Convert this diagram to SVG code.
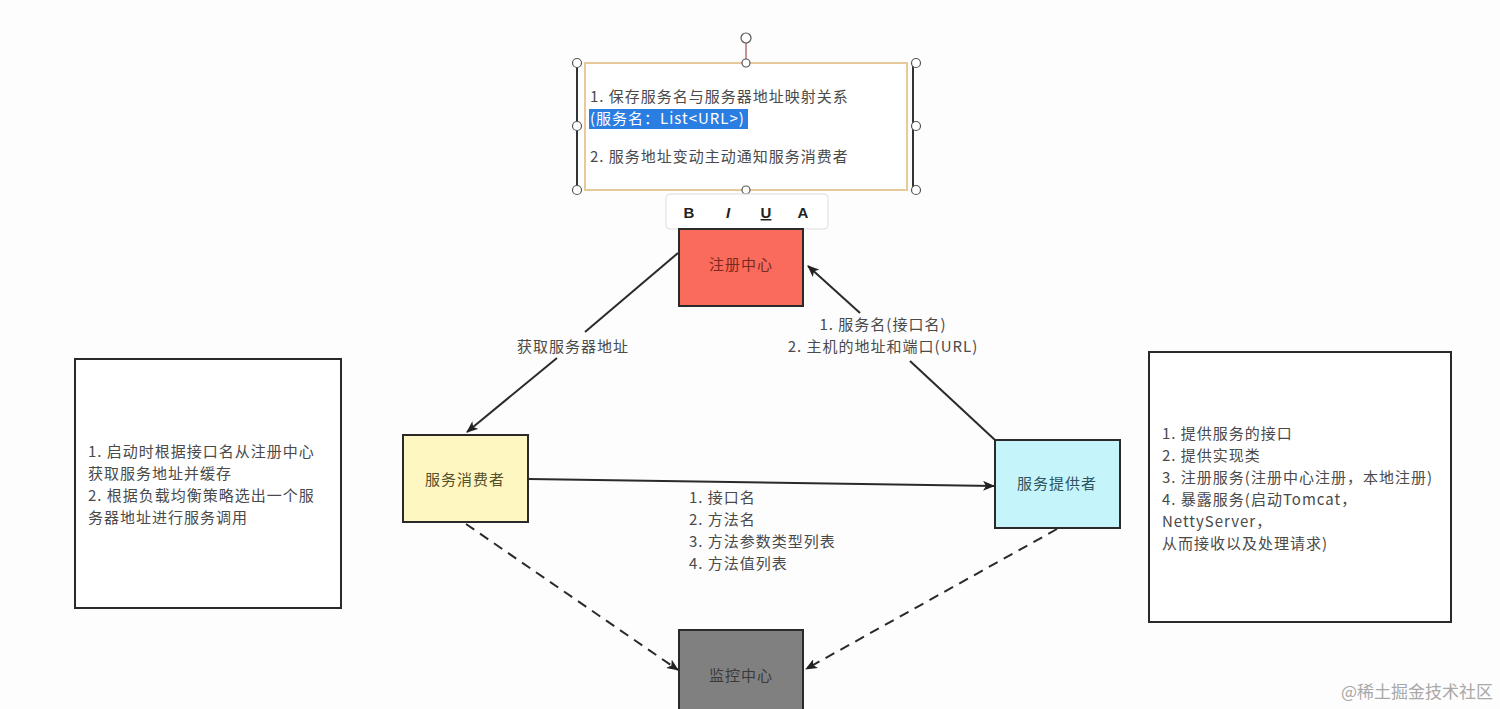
<svg xmlns="http://www.w3.org/2000/svg" width="1500" height="709" viewBox="0 0 1500 709">
<defs>
<marker id="ah" markerWidth="12" markerHeight="10" refX="11" refY="5" orient="auto" markerUnits="userSpaceOnUse">
<path d="M0,0 L12,5 L0,10 L3,5 Z" fill="#222"/>
</marker>
<style>
text{font-family:"Noto Sans CJK SC","Liberation Sans",sans-serif;font-size:15px;letter-spacing:1px;fill:#4a4a4a}
.box{stroke:#2a2a2a;stroke-width:2}
.conn{stroke:#2a2a2a;stroke-width:2;fill:none}
.dash{stroke-dasharray:10,7}
.handle{fill:#fff;stroke:#555;stroke-width:1.2}
.c{text-anchor:middle}
.tb{font-weight:bold;fill:#222;font-family:"Liberation Sans",sans-serif;letter-spacing:0}
</style>
</defs>
<rect width="1500" height="709" fill="#fdfdfd"/>

<g id="connectors">
<path class="conn" d="M678,253 L585,332"/>
<path class="conn" d="M557,358 L467,432" marker-end="url(#ah)"/>
<path class="conn" d="M995,440 L910,361"/>
<path class="conn" d="M860,313 L808,266" marker-end="url(#ah)"/>
<path class="conn" d="M529,479 L994,486" marker-end="url(#ah)"/>
<path class="conn dash" d="M466,524 L678,670" marker-end="url(#ah)"/>
<path class="conn dash" d="M1057,529 L806,669" marker-end="url(#ah)"/>
<text x="573" y="352" class="c">获取服务器地址</text>
<text x="883" y="330" class="c">1. 服务名(接口名)</text>
<text x="883" y="352" class="c">2. 主机的地址和端口(URL)</text>
<text x="689" y="503">1. 接口名</text>
<text x="689" y="525">2. 方法名</text>
<text x="689" y="547">3. 方法参数类型列表</text>
<text x="689" y="569">4. 方法值列表</text>
</g>

<g id="note-top">
<rect x="585" y="63" width="322" height="127" fill="#fff" stroke="#e8c99a" stroke-width="2"/>
<line x1="577" y1="63" x2="577" y2="190" stroke="#333" stroke-width="2"/>
<line x1="913" y1="63" x2="913" y2="190" stroke="#333" stroke-width="2"/>
<line x1="746" y1="43" x2="746" y2="63" stroke="#b07070" stroke-width="1.5"/>
<circle class="handle" cx="746" cy="38" r="5" stroke="#a06060"/>
<circle class="handle" cx="577" cy="63" r="4.5"/>
<circle class="handle" cx="916" cy="63" r="4.5"/>
<circle class="handle" cx="577" cy="190" r="4.5"/>
<circle class="handle" cx="916" cy="190" r="4.5"/>
<circle class="handle" cx="577" cy="126" r="4.5"/>
<circle class="handle" cx="916" cy="126" r="4.5"/>
<circle class="handle" cx="746" cy="63" r="4" stroke="#e8c99a"/>
<circle class="handle" cx="746" cy="190" r="4" stroke="#e8c99a"/>
<text x="590" y="102">1.  保存服务名与服务器地址映射关系</text>
<rect x="589" y="109" width="159" height="20" fill="#2a7de1"/>
<text x="590" y="124" style="fill:#fff">(服务名：List&lt;URL&gt;)</text>
<text x="590" y="162">2. 服务地址变动主动通知服务消费者</text>
</g>

<g id="toolbar">
<rect x="666" y="194" width="162" height="35" rx="4" fill="#fff" stroke="#ddd"/>
<text x="689" y="218" class="c tb">B</text>
<text x="728" y="218" class="c tb" style="font-style:italic">I</text>
<text x="766" y="218" class="c tb" style="text-decoration:underline">U</text>
<text x="803" y="218" class="c tb">A</text>
</g>

<g id="registry">
<rect class="box" x="679" y="229" width="124" height="77" fill="#fa6b5c"/>
<text x="741" y="270" class="c" style="fill:#7a2a22">注册中心</text>
</g>

<g id="consumer">
<rect class="box" x="403" y="435" width="125" height="87" fill="#fff7c2"/>
<text x="465" y="485" class="c" style="fill:#55502a">服务消费者</text>
</g>

<g id="provider">
<rect class="box" x="995" y="440" width="125" height="88" fill="#c6f4fb"/>
<text x="1057" y="489" class="c" style="fill:#2e5560">服务提供者</text>
</g>

<g id="monitor">
<rect class="box" x="679" y="630" width="124" height="90" fill="#808080"/>
<text x="741" y="681" class="c" style="fill:#3a3a3a">监控中心</text>
</g>

<g id="note-consumer">
<rect class="box" x="75" y="359" width="266" height="249" fill="#fff"/>
<text x="88" y="457">1. 启动时根据接口名从注册中心</text>
<text x="88" y="479">获取服务地址并缓存</text>
<text x="88" y="501">2. 根据负载均衡策略选出一个服</text>
<text x="88" y="523">务器地址进行服务调用</text>
</g>

<g id="note-provider">
<rect class="box" x="1149" y="352" width="302" height="270" fill="#fff"/>
<text x="1162" y="439">1. 提供服务的接口</text>
<text x="1162" y="461">2. 提供实现类</text>
<text x="1162" y="483">3. 注册服务(注册中心注册，本地注册)</text>
<text x="1162" y="505">4. 暴露服务(启动Tomcat，</text>
<text x="1162" y="527">NettyServer，</text>
<text x="1162" y="549">从而接收以及处理请求)</text>
</g>

<text x="1493" y="698" style="text-anchor:end;font-size:17px;letter-spacing:0;fill:#a8a8a8;font-family:'Noto Sans CJK SC',serif">@稀土掘金技术社区</text>
</svg>
